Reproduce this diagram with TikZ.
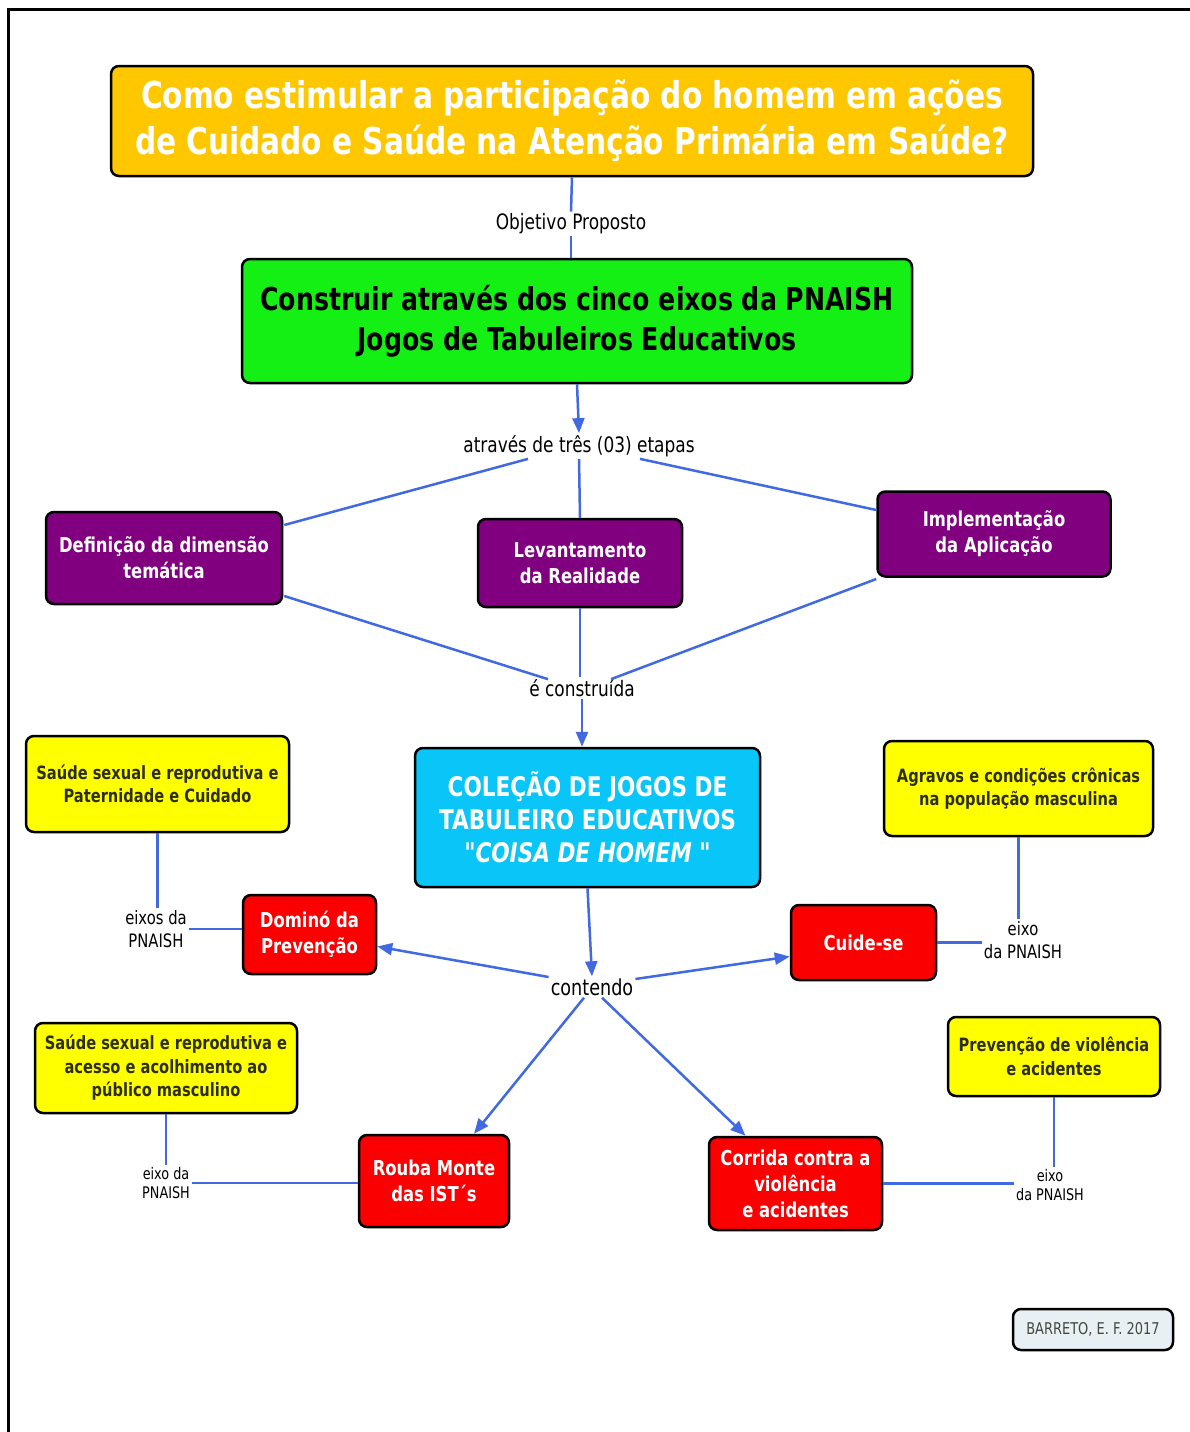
\documentclass[tikz,border=0pt]{standalone}
\usepackage{fontspec}
\setmainfont{DejaVu Sans}[FakeStretch=0.8]
\newfontfamily\qfont{DejaVu Sans}[FakeStretch=0.8, Ligatures=TeXOff]
\usetikzlibrary{arrows.meta,calc}
\definecolor{cTitle}{RGB}{255,199,0}
\definecolor{cGreen}{RGB}{20,240,20}
\definecolor{cPurple}{RGB}{128,0,128}
\definecolor{cCyan}{RGB}{10,198,248}
\definecolor{cRed}{RGB}{250,0,0}
\definecolor{cYellow}{RGB}{255,255,0}
\definecolor{cYText}{RGB}{45,45,15}
\definecolor{cCredit}{RGB}{232,240,244}
\definecolor{cCreditText}{RGB}{70,70,60}
\definecolor{cLine}{RGB}{65,105,225}
\tikzset{
  box/.style={draw=black, line width=2.5pt, rounded corners=8pt, align=center, inner sep=2pt},
  titlebox/.style={box, fill=cTitle, text=white, font=\fontsize{37}{46}\selectfont\bfseries},
  greenbox/.style={box, fill=cGreen, text=black, font=\fontsize{31.5}{40}\selectfont\bfseries},
  purplebox/.style={box, fill=cPurple, text=white, font=\fontsize{20.5}{26}\selectfont\bfseries},
  cyanbox/.style={box, fill=cCyan, text=white, font=\fontsize{27}{33}\selectfont\bfseries},
  redbox/.style={box, fill=cRed, text=white, font=\fontsize{20.5}{26}\selectfont\bfseries},
  yellowbox/.style={box, fill=cYellow, text=cYText, font=\fontsize{18.3}{23.5}\selectfont\bfseries},
  creditbox/.style={box, fill=cCredit, text=cCreditText, font=\fontsize{16.2}{20}\selectfont},
  lab/.style={align=center, inner sep=2pt, text=black, font=\fontsize{21.2}{24}\selectfont},
  smalllab/.style={align=center, inner sep=2pt, text=black, font=\fontsize{18.5}{23}\selectfont},
  tinylab/.style={align=center, inner sep=2pt, text=black, font=\fontsize{16}{19}\selectfont},
  conn/.style={draw=cLine, line width=2.5pt},
  arr/.style={conn, -{Triangle[length=15pt,width=12pt]}}
}
\begin{document}
\begin{tikzpicture}[x=1pt,y=-1pt]
\useasboundingbox (0,0) rectangle (1189,1432);
\fill[white] (0,0) rectangle (1189,1432);
\draw[line width=3pt] (8,1440) -- (8,9) -- (1195,9);

% nodes
\node[titlebox, minimum width=922pt, minimum height=110pt] (title) at (572,121)
  {Como estimular a participação do homem em ações\\de Cuidado e Saúde na Atenção Primária em Saúde?};
\node[lab] (obj) at (571,224) {Objetivo Proposto};
\node[greenbox, minimum width=670pt, minimum height=124pt] (green) at (577,321)
  {Construir através dos cinco eixos da PNAISH\\Jogos de Tabuleiros Educativos};
\node[lab] (etapas) at (579,446) {através de três (03) etapas};
\node[purplebox, minimum width=236pt, minimum height=92pt] (def) at (164,558)
  {Definição da dimensão\\temática};
\node[purplebox, minimum width=204pt, minimum height=88pt] (lev) at (580,563)
  {Levantamento\\da Realidade};
\node[purplebox, minimum width=233pt, minimum height=85pt] (impl) at (994,534)
  {Implementação\\da Aplicação};
\node[lab] (constr) at (582,688) {é construída};
\node[cyanbox, minimum width=345pt, minimum height=139pt] (colecao) at (587.5,817.5)
  {COLEÇÃO DE JOGOS DE\\TABULEIRO EDUCATIVOS\\{\qfont\bfseries "}\textit{COISA DE HOMEM} {\qfont\bfseries "}};
\node[lab, font=\fontsize{22}{26}\selectfont] (contendo) at (592,987) {contendo};
\node[redbox, minimum width=133pt, minimum height=79pt] (domino) at (309.5,934.5)
  {Dominó da\\Prevenção};
\node[redbox, minimum width=145pt, minimum height=75pt] (cuide) at (863.5,942.5)
  {Cuide-se};
\node[redbox, minimum width=150pt, minimum height=92pt] (rouba) at (434,1181)
  {Rouba Monte\\das IST´s};
\node[redbox, minimum width=173pt, minimum height=93pt] (corrida) at (795.5,1183.5)
  {Corrida contra a\\violência\\e acidentes};
\node[yellowbox, minimum width=263pt, minimum height=96pt] (y1) at (157.5,784)
  {Saúde sexual e reprodutiva e\\Paternidade e Cuidado};
\node[yellowbox, minimum width=269pt, minimum height=95pt] (y2) at (1018.5,788.5)
  {Agravos e condições crônicas\\na população masculina};
\node[yellowbox, minimum width=262pt, minimum height=90pt] (y3) at (166,1068)
  {Saúde sexual e reprodutiva e\\acesso e acolhimento ao\\público masculino};
\node[yellowbox, minimum width=212pt, minimum height=79pt] (y4) at (1054,1056.5)
  {Prevenção de violência\\e acidentes};
\node[smalllab] (lab1) at (156,929) {eixos da\\PNAISH};
\node[smalllab] (lab2) at (1023,940) {eixo\\da PNAISH};
\node[tinylab] (lab3) at (166,1183) {eixo da\\PNAISH};
\node[tinylab] (lab4) at (1050,1185) {eixo\\da PNAISH};
\node[creditbox, minimum width=160pt, minimum height=41pt] (credit) at (1093,1329.5)
  {BARRETO, E. F. 2017};

% connectors
\draw[conn] (title.south) -- (obj.north);
\draw[conn] (obj.south) -- (obj.south |- green.north);
\draw[arr] (green.south) -- (etapas.north);
\draw[conn] ($(etapas.south)+(-51,0)$) -- ($(def.east)+(1,-33)$);
\draw[conn] (etapas.south) -- (lev.north);
\draw[conn] ($(etapas.south)+(61,0)$) -- ($(impl.west)+(0,-24)$);
\draw[conn] ($(def.east)+(1,38)$) -- ($(constr.north)+(-34,2)$);
\draw[conn] (lev.south) -- (lev.south |- constr.north);
\draw[conn] ($(impl.west)+(0,45)$) -- ($(constr.north)+(29,2)$);
\draw[arr] (constr.south) -- (constr.south |- colecao.north);
\draw[arr] (colecao.south) -- (contendo.north);
\draw[arr] ($(contendo.west)+(0,-10)$) -- ($(domino.east)+(0,12)$);
\draw[arr] ($(contendo.east)+(0,-8)$) -- ($(cuide.west)+(0,14)$);
\draw[arr] ($(contendo.south)+(-8,0)$) -- ($(rouba.north)+(40,0)$);
\draw[arr] ($(contendo.south)+(10,0)$) -- ($(corrida.north)+(-50,0)$);
\draw[conn] (y1.south) -- (y1.south |- lab1.north);
\draw[conn] (lab1.east) -- (lab1.east -| domino.west);
\draw[conn] (y2.south) -- (y2.south |- lab2.north);
\draw[conn] (cuide.east) -- (cuide.east -| lab2.west);
\draw[conn] (y3.south) -- (y3.south |- lab3.north);
\draw[conn] (lab3.east) -- (lab3.east -| rouba.west);
\draw[conn] (y4.south) -- (y4.south |- lab4.north);
\draw[conn] (corrida.east) -- (corrida.east -| lab4.west);
\end{tikzpicture}
\end{document}
